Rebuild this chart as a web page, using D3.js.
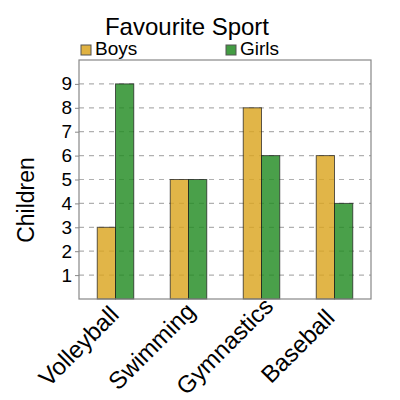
<!DOCTYPE html>
<html>
<head>
<meta charset="utf-8">
<script src="https://cdn.jsdelivr.net/npm/d3@7"></script>
<style>
  body { margin: 0; background: #fff; }
  text { font-family: "Liberation Sans", Arial, sans-serif; fill: #000; }
</style>
</head>
<body>
<div id="chart"></div>
<script>
/* DATA */
const sports = ["Volleyball", "Swimming", "Gymnastics", "Baseball"];
const boys = [3, 5, 8, 6];
const girls = [9, 5, 6, 4];
const seriesNames = ["Boys", "Girls"];
const yTicks = [1, 2, 3, 4, 5, 6, 7, 8, 9];

/* CONSTANTS */
const width = 400,
  height = 400,
  margin = { top: 60, right: 29, bottom: 101, left: 79 };
const colors = ["#daa520", "#228b22"];

const svg = d3.select("#chart")
  .append("svg")
  .attr("width", width)
  .attr("height", height);

const x = d3.scaleBand()
  .domain(sports)
  .range([margin.left, width - margin.right]);

const xInner = d3.scaleBand()
  .domain(seriesNames)
  .range([0, x.bandwidth() / 2]);

const y = d3.scaleLinear()
  .domain([0, 10])
  .range([height - margin.bottom, margin.top]);

// grid
svg.append("g")
  .selectAll("line")
  .data(yTicks)
  .join("line")
  .attr("x1", margin.left)
  .attr("x2", width - margin.right)
  .attr("y1", d => y(d))
  .attr("y2", d => y(d))
  .attr("stroke", "#b0b0b0")
  .attr("stroke-width", 1.2)
  .attr("stroke-dasharray", "5,5");

// bars
const rows = sports.map((s, i) => ({ sport: s, values: [boys[i], girls[i]] }));
svg.append("g")
  .selectAll("g")
  .data(rows)
  .join("g")
  .attr("transform", d => `translate(${x(d.sport) + x.bandwidth() / 4},0)`)
  .selectAll("rect")
  .data(d => d.values.map((v, j) => ({ name: seriesNames[j], value: v, c: colors[j] })))
  .join("rect")
  .attr("x", d => xInner(d.name))
  .attr("width", xInner.bandwidth())
  .attr("y", d => y(d.value))
  .attr("height", d => y(0) - y(d.value))
  .attr("fill", d => d.c)
  .attr("fill-opacity", 0.82)
  .attr("stroke", "#1a1a1a")
  .attr("stroke-opacity", 0.7)
  .attr("stroke-width", 1);

// frame
svg.append("rect")
  .attr("x", margin.left)
  .attr("y", margin.top)
  .attr("width", width - margin.left - margin.right)
  .attr("height", height - margin.top - margin.bottom)
  .attr("fill", "none")
  .attr("stroke", "#888")
  .attr("stroke-width", 1.2);

// y axis
const yAxis = svg.append("g")
  .attr("transform", `translate(${margin.left},0)`)
  .call(d3.axisLeft(y).tickValues(yTicks).tickSize(4).tickPadding(3));
yAxis.select(".domain").remove();
yAxis.selectAll(".tick line").attr("stroke", "#888");
yAxis.selectAll(".tick text")
  .style("font-size", "19px")
  .style("font-family", "Liberation Sans, Arial, sans-serif")
  .attr("fill", "#000");

// x axis labels, slanted and centred below each group
const xAxis = svg.append("g")
  .attr("transform", `translate(0,${height - margin.bottom})`)
  .call(d3.axisBottom(x).tickSize(0).tickPadding(0));
xAxis.select(".domain").remove();
xAxis.selectAll(".tick text")
  .style("font-size", "24px")
  .style("font-family", "Liberation Sans, Arial, sans-serif")
  .attr("fill", "#000")
  .attr("text-anchor", "middle")
  .attr("dy", "0")
  .attr("transform", "translate(-31,53) rotate(-45)");

// axis title
svg.append("text")
  .attr("transform", `translate(34,200) rotate(-90)`)
  .attr("text-anchor", "middle")
  .style("font-size", "23px")
  .text("Children");

// title
svg.append("text")
  .attr("x", 187)
  .attr("y", 35)
  .attr("text-anchor", "middle")
  .style("font-size", "24px")
  .text("Favourite Sport");

// legend
const legendX = [81, 226];
const legend = svg.append("g")
  .selectAll("g")
  .data(seriesNames)
  .join("g")
  .attr("transform", (d, i) => `translate(${legendX[i]},45)`);
legend.append("rect")
  .attr("width", 10)
  .attr("height", 10)
  .attr("fill", (d, i) => colors[i])
  .attr("fill-opacity", 0.85)
  .attr("stroke", "#555");
legend.append("text")
  .attr("x", 14)
  .attr("y", 10)
  .style("font-size", "19px")
  .text(d => d);
</script>
</body>
</html>
